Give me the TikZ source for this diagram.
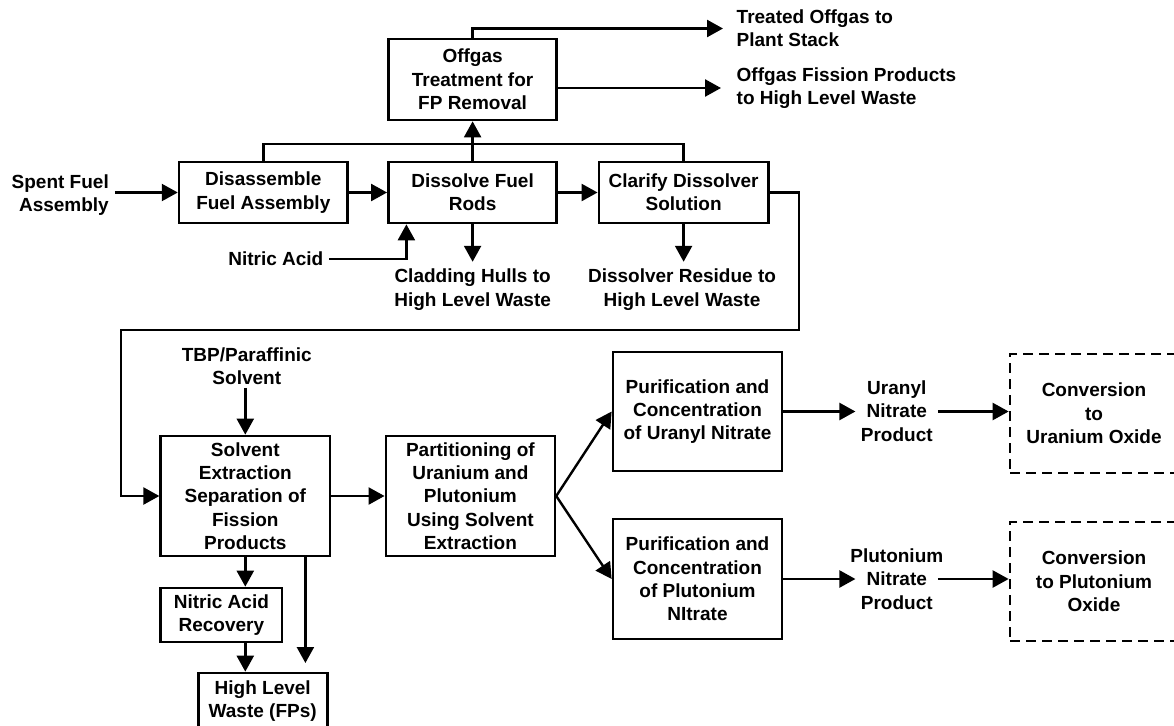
\documentclass[tikz,border=0pt]{standalone}
\usepackage{fontspec}
\setmainfont{Liberation Sans}
\usetikzlibrary{arrows.meta,calc}
\begin{document}
\begin{tikzpicture}[x=1pt,y=-1pt,
  every node/.style={font=\fontsize{19}{23.3}\selectfont\bfseries},
  lbl/.style={inner sep=0pt, align=center},
  pbox/.style={draw, line width=2.7pt, inner sep=0pt, align=center},
  dbox/.style={pbox, dash pattern=on 10pt off 6pt},
  conn/.style={line width=2.4pt},
  arr/.style={conn, -{Triangle[length=16pt,width=17pt]}}]
\useasboundingbox (0,0) rectangle (1174,725);
\clip (0,0) rectangle (1174,725);

% boxes
\node[pbox, minimum width=168.4pt, minimum height=81pt] (off) at (472.6,79.5) {Offgas\\Treatment for\\FP Removal};
\node[pbox, minimum width=168.4pt, minimum height=61pt] (dis) at (263.3,192.5) {Disassemble\\Fuel Assembly};
\node[pbox, minimum width=168.4pt, minimum height=61pt] (dfr) at (472.6,192.5) {Dissolve Fuel\\Rods};
\node[pbox, minimum width=169.4pt, minimum height=61pt] (cla) at (683.6,192.5) {Clarify Dissolver\\Solution};
\node[pbox, minimum width=169.2pt, minimum height=120pt] (sol) at (245.3,496) {Solvent\\Extraction\\Separation of\\Fission\\Products};
\node[pbox, minimum width=169pt, minimum height=120pt] (par) at (470.4,496) {Partitioning of\\Uranium and\\Plutonium\\Using Solvent\\Extraction};
\node[pbox, minimum width=121.3pt, minimum height=54pt] (nar) at (221.4,615) {Nitric Acid\\Recovery};
\node[pbox, minimum width=129pt, minimum height=56pt] (hlw) at (262.7,701) {High Level\\Waste (FPs)};
\node[pbox, minimum width=169pt, minimum height=119pt] (pu) at (697.5,411.5) {Purification and\\Concentration\\of Uranyl Nitrate};
\node[pbox, minimum width=169pt, minimum height=120pt] (ppu) at (697.5,579) {Purification and\\Concentration\\of Plutonium\\NItrate};
\node[dbox, minimum width=168pt, minimum height=119pt] (cu) at (1094,413.5) {Conversion\\to\\Uranium Oxide};
\node[dbox, minimum width=168pt, minimum height=119pt] (cpu) at (1094,581.5) {Conversion\\to Plutonium\\Oxide};

% labels
\node[lbl, anchor=east, align=right] (spent) at (109,195) {Spent Fuel\\Assembly};
\node[lbl, anchor=west, align=left] (treated) at (736.5,28.5) {Treated Offgas to\\Plant Stack};
\node[lbl, anchor=west, align=left] (ofp) at (736.5,88) {Offgas Fission Products\\to High Level Waste};
\node[lbl, anchor=east] (nitric) at (323.5,259) {Nitric Acid};
\node[lbl] (clad) at (472.6,289.5) {Cladding Hulls to\\High Level Waste};
\node[lbl] (dres) at (682,289.5) {Dissolver Residue to\\High Level Waste};
\node[lbl] (tbp) at (246.8,366) {TBP/Paraffinic\\Solvent};
\node[lbl] (uranyl) at (896.8,411) {Uranyl\\Nitrate\\Product};
\node[lbl] (plut) at (896.8,579) {Plutonium\\Nitrate\\Product};

% helper coordinates
\coordinate (jn) at (472.6,144);
\coordinate (lr) at (799,330);
\coordinate (ll) at (121,330);
\coordinate (fpe) at (305.4,663);
\coordinate (ux) at ([xshift=-5.3pt]uranyl.west);
\coordinate (uy) at ([xshift=5pt]uranyl.east);

% connectors
\draw[arr] (off.north) |- ([xshift=-13.5pt]treated.west);
\draw[arr] (off.east |- ofp.west) -- ([xshift=-15.5pt]ofp.west);
\draw[conn] (dis.north) |- (jn) -| (cla.north);
\draw[arr] (dfr.north) -- (off.south);
\draw[arr] ([xshift=5.8pt]spent.east |- dis.west) -- (dis.west);
\draw[arr] (dis) -- (dfr);
\draw[arr] (dfr) -- (cla);
\draw[arr] ([xshift=5.5pt]nitric.east) -| ([xshift=-66.2pt]dfr.south);
\draw[arr, shorten >=7pt] (dfr.south) -- (dfr.south |- clad.north);
\draw[arr, shorten >=7pt] (cla.south) -- (cla.south |- dres.north);
\draw[arr] (cla.east) -| (lr) -- (ll) |- (sol.west);
\draw[arr, shorten <=3pt] (sol.north |- tbp.south) -- (sol.north);
\draw[arr] (sol) -- (par);
\draw[arr] (sol.south) -- (sol.south |- nar.north);
\draw[arr] (sol.south |- nar.south) -- (sol.south |- hlw.north);
\draw[arr] (sol.south -| fpe) -- (fpe);
\draw[arr] (par.east) -- (pu.west);
\draw[arr] (par.east) -- (ppu.west);
\draw[arr] (pu.east) -- (ux |- pu.east);
\draw[arr] (uy |- pu.east) -- (cu.west |- pu.east);
\draw[arr] (ppu.east) -- (ux |- ppu.east);
\draw[arr] (uy |- ppu.east) -- (cpu.west |- ppu.east);
\end{tikzpicture}
\end{document}
